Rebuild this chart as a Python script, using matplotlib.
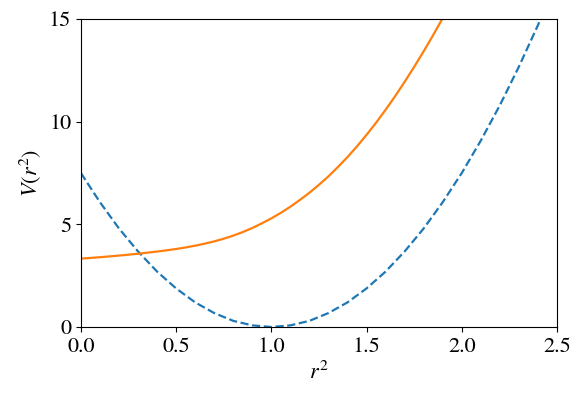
import matplotlib
matplotlib.use("Agg")
import matplotlib.pyplot as plt

plt.rcParams["font.family"] = ["STIXGeneral", "DejaVu Serif"]
plt.rcParams["mathtext.fontset"] = "stix"
plt.rcParams["font.size"] = 16

# dashed (blue) potential, sampled every 0.1 in r^2
r2 = [0.0, 0.1, 0.2, 0.3, 0.4, 0.5, 0.6, 0.7, 0.8, 0.9, 1.0, 1.1, 1.2,
      1.3, 1.4, 1.5, 1.6, 1.7, 1.8, 1.9, 2.0, 2.1, 2.2, 2.3, 2.4, 2.5]
v_dashed = [7.5, 6.08, 4.8, 3.68, 2.7, 1.88, 1.2, 0.68, 0.3, 0.08, 0.0,
            0.08, 0.3, 0.68, 1.2, 1.88, 2.7, 3.68, 4.8, 6.08, 7.5, 9.08,
            10.8, 12.68, 14.7, 16.9]

# solid (orange) potential, sampled every 0.05 up to r^2 = 2.0
r2_solid = [0.0, 0.05, 0.1, 0.15, 0.2, 0.25, 0.3, 0.35, 0.4, 0.45, 0.5,
            0.55, 0.6, 0.65, 0.7, 0.75, 0.8, 0.85, 0.9, 0.95, 1.0, 1.05,
            1.1, 1.15, 1.2, 1.25, 1.3, 1.35, 1.4, 1.45, 1.5, 1.55, 1.6,
            1.65, 1.7, 1.75, 1.8, 1.85, 1.9, 1.95, 2.0]
v_solid = [3.33, 3.365, 3.40, 3.439, 3.48, 3.523, 3.57, 3.622, 3.675,
           3.735, 3.80, 3.875, 3.96, 4.06, 4.17, 4.30, 4.45, 4.625, 4.82,
           5.05, 5.29, 5.56, 5.86, 6.19, 6.54, 6.925, 7.34, 7.795, 8.28,
           8.80, 9.36, 9.95, 10.58, 11.24, 11.94, 12.67, 13.43, 14.22,
           15.05, 15.85, 16.7]

fig = plt.figure(figsize=(5.82, 4.01), dpi=100)
ax = fig.add_axes([0.139, 0.1845, 0.818, 0.768])

ax.plot(r2, v_dashed, "--", color="C0", lw=1.6)
ax.plot(r2_solid, v_solid, "-", color="C1", lw=1.6)

ax.set_xlim(0, 2.5)
ax.set_ylim(0, 15)
ax.set_xticks([0.0, 0.5, 1.0, 1.5, 2.0, 2.5])
ax.set_yticks([0, 5, 10, 15])
ax.set_xlabel(r"$r^2$")
ax.set_ylabel(r"$V(r^2)$")

fig.savefig("out.png", dpi=100)
